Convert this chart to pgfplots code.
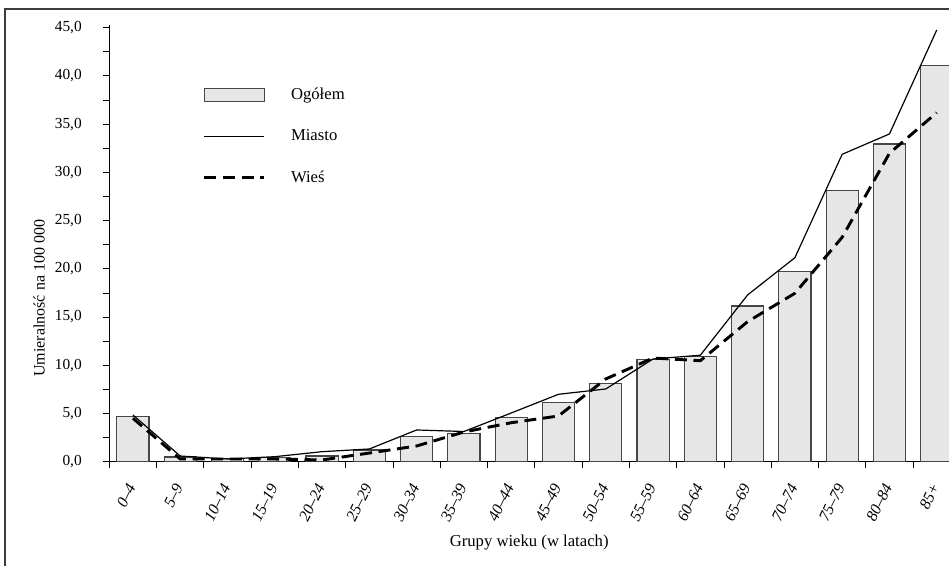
\documentclass[border=0pt]{standalone}
\usepackage{fontspec}
\setmainfont{Liberation Serif}
\usepackage{pgfplots}
\pgfplotsset{compat=1.18}
\definecolor{barfill}{RGB}{230,230,230}
\definecolor{baredge}{RGB}{70,70,70}
\definecolor{framec}{RGB}{60,60,60}
\pgfplotsset{
  barleg/.style={legend image code/.code={\draw[##1] (0pt,-4.75pt) rectangle (45pt,4.75pt);}},
  lineleg/.style={legend image code/.code={\draw[##1] (0pt,0pt) -- (45pt,0pt);}},
}

\begin{document}
\begin{tikzpicture}
\useasboundingbox (0pt,0pt) rectangle (711.75pt,423.75pt);
\draw[framec, line width=1.1pt] (3.75pt,-4pt) -- (3.75pt,417pt) -- (720pt,417pt);
\begin{axis}[
  at={(81.975pt,77.475pt)}, anchor=south west,
  scale only axis, width=629.8pt, height=327.7pt,
  xmin=-0.5, xmax=17.26, ymin=0, ymax=45.3,
  axis lines=left, axis line style={-, line width=0.8pt},
  clip=true,
  xtick={0,...,17},
  xticklabels={0--4,5--9,10--14,15--19,20--24,25--29,30--34,35--39,40--44,45--49,50--54,55--59,60--64,65--69,70--74,75--79,80--84,85+},
  major x tick style={draw=none},
  minor xtick={-0.5,0.5,...,16.5},
  ytick={0,5,...,45},
  minor ytick={2.5,7.5,...,42.5},
  tick align=outside,
  major tick length=4.5pt, minor tick length=4.5pt,
  tick style={black, line width=0.6pt},
  yticklabel style={font=\fontsize{11.5}{13}\selectfont, anchor=east, inner sep=0pt, xshift=-16pt},
  xticklabel style={font=\fontsize{12}{14}\selectfont\itshape, yshift=-12.5pt, xshift=-1pt, rotate=64, anchor=east, inner sep=0pt},
  /pgf/number format/.cd, fixed, fixed zerofill, precision=1, use comma, assume math mode=true, 1000 sep={},
  /pgfplots/.cd,
  xlabel={Grupy wieku (w latach)},
  ylabel={Umieralność na 100 000},
  xlabel style={font=\fontsize{12.5}{14}\selectfont, at={(axis description cs:0.5,-0.1854)}, anchor=center},
  ylabel style={font=\fontsize{12}{14}\selectfont, at={(axis description cs:-0.0834,0.374)}, anchor=center},
  legend cell align=left,
  legend style={at={(axis description cs:0.111,0.862)}, anchor=north west, draw=none, fill=none,
    inner sep=0pt, row sep=17pt, column sep=17pt, font=\fontsize{12.5}{14}\selectfont},
]
\addplot[ybar, bar width=0.68, fill=barfill, draw=baredge, line width=0.8pt, barleg]
  coordinates {
  (0,4.65) (1,0.49) (2,0.31) (3,0.46) (4,0.59) (5,1.21) (6,2.59) (7,2.94) (8,4.6)
  (9,6.16) (10,8.13) (11,10.55) (12,10.89) (13,16.14) (14,19.7) (15,28.1) (16,32.94) (17,41.06)};
\addlegendentry{Ogółem}
\addplot[black, line width=0.9pt, sharp plot, lineleg]
  coordinates {
  (0,4.84) (1,0.59) (2,0.28) (3,0.52) (4,1.04) (5,1.32) (6,3.29) (7,3.13) (8,5.05)
  (9,6.99) (10,7.54) (11,10.65) (12,11.04) (13,17.29) (14,21.15) (15,31.87) (16,33.98) (17,44.76)};
\addlegendentry{Miasto}
\addplot[black, line width=2.2pt, dash pattern=on 9pt off 5pt, sharp plot, lineleg]
  coordinates {
  (0,4.5) (1,0.28) (2,0.28) (3,0.28) (4,0.18) (5,0.9) (6,1.63) (7,3.08) (8,4.04)
  (9,4.74) (10,8.58) (11,10.75) (12,10.47) (13,14.52) (14,17.46) (15,23.27) (16,31.98) (17,36.19)};
\addlegendentry{Wieś}
\end{axis}
\end{tikzpicture}
\end{document}
